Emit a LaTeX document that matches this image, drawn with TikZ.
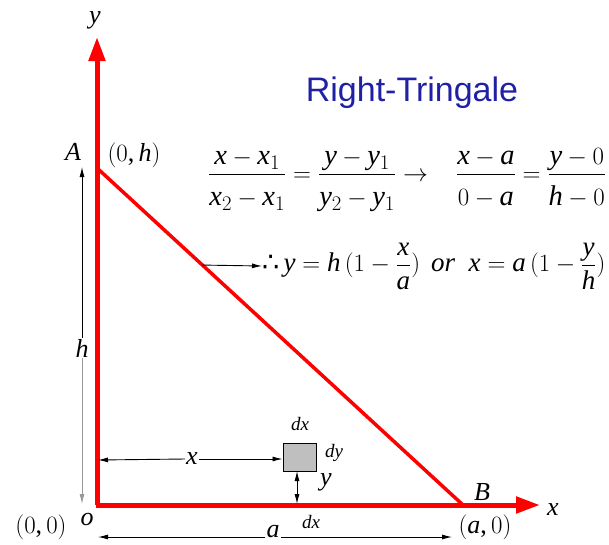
\documentclass[tikz,border=0pt]{standalone}
\usepackage{amsmath}
\usepackage{fontspec}
\setmainfont{Liberation Serif}
\setsansfont{Liberation Sans}
\newfontfamily\symfam{DejaVu Sans}
\DeclareSymbolFont{operators}{TU}{\rmdefault}{m}{n}
\DeclareSymbolFont{letters}{TU}{\rmdefault}{m}{it}
\SetSymbolFont{operators}{bold}{TU}{\rmdefault}{b}{n}
\SetSymbolFont{letters}{bold}{TU}{\rmdefault}{b}{it}
\AtBeginDocument{\mathcode`\,="602C}
\newcommand{\thfore}{\mathord{\text{\symfam ∴}}\,}
\newcommand{\dstrut}{\rule{0pt}{0.95em}}
\usetikzlibrary{arrows.meta,calc}
\definecolor{titleblue}{RGB}{32,32,165}
\tikzset{
  axis/.style={red, line width=5pt, -{Triangle[length=24pt,width=16pt]}},
  hypo/.style={red, line width=3.5pt},
  dimarrow/.style={black, line width=0.9pt, -{Latex[length=10pt,width=5pt]}},
  dimboth/.style={black, line width=0.9pt, {Latex[length=10pt,width=5pt]}-{Latex[length=10pt,width=5pt]}},
  lab/.style={inner sep=1pt, font=\fontsize{26}{30}\selectfont},
  eqn/.style={inner sep=0pt, anchor=west},
  small/.style={inner sep=1pt, font=\fontsize{19}{22}\selectfont},
  sq/.style={draw=black, line width=1pt, fill=black!25, minimum width=33pt, minimum height=28pt, inner sep=0pt},
}
\begin{document}
\begin{tikzpicture}[x=1pt,y=-1pt]
\useasboundingbox (0,0) rectangle (609,544);
% points
\coordinate (O) at (97,505);
\coordinate (A) at (97,168);
\coordinate (B) at (463,505);
\coordinate (ytip) at (97,37);
\coordinate (xtip) at (540,505);
% axes and hypotenuse
\draw[axis] (O) -- (ytip);
\draw[axis] (95.5,505) -- (xtip);
\draw[hypo] (A) -- (B);
% axis labels
\node[lab] (ylab) at (95,20) {$y$};
\node[lab] (xlab) at (553,510) {$x$};
\node[lab] (Alab) at (73,152) {$A$};
\node[lab] (Acoord) at (134,155) {$(0,h)$};
\node[lab] (Blab) at (482,492) {$B$};
\node[lab] (Bcoord) at (485,527) {$(a,0)$};
\node[lab] (Ocoord) at (41,527) {$(0,0)$};
\node[lab] (olab) at (87,519) {$o$};
% h dimension
\coordinate (hTop) at (82,167);
\coordinate (hBot) at (82,504);
\node[lab] (hlab) at (82,348) {$h$};
\draw[dimarrow] (hlab.north) -- (hTop);
\draw[dimarrow, black!40] (hlab.south) -- (hBot);
% element
\node[sq] (dA) at (299.5,457) {};
\node[small] (dxlab) at (300,424) {$dx$};
\node[small] (dylab) at (334,453) {$dy$};
% x dimension
\coordinate (xleft) at (98,460);
\node[lab] (xd) at (192,459) {$x$};
\draw[dimarrow] (xd.west) -- (xleft);
\draw[dimarrow] (xd.east) -- (xd.east -| dA.west);
% y dimension
\node[lab] (yd) at (326,482) {$y$};
\draw[dimboth] (297,471) -- (297,504);
% a dimension
\coordinate (aleft) at (98,537);
\coordinate (aright) at (452,537);
\node[lab] (ad) at (273,532) {$a$};
\node[small] (dx2) at (311,522) {$dx$};
\draw[dimarrow] (ad.west |- aleft) -- (aleft);
\draw[dimarrow] (ad.east |- aright) -- (aright);
% title
\node[font=\sffamily\fontsize{34}{40}\selectfont, text=titleblue, inner sep=0pt] (title) at (412,93) {Right-Tringale};
% equations
\node[eqn, font=\fontsize{28.5}{32}\selectfont] (eq1) at (208,180) {$\dfrac{x-x_1}{\dstrut x_2-x_1}=\dfrac{y-y_1}{\dstrut y_2-y_1}\rightarrow\ \ \;\dfrac{x-a}{\dstrut 0-a}=\dfrac{y-0}{\dstrut h-0}$};
\coordinate (hp) at ($(A)!0.288!(B)$);
\node[eqn, font=\fontsize{27}{31}\selectfont] (eq2) at (262,266) {$\thfore y=h\,(1-\dfrac{x}{a})\ \,\mathit{or}\ \ x=a\,(1-\dfrac{y}{h})$};
\draw[dimarrow] (hp) -- (eq2.west);
\end{tikzpicture}
\end{document}
